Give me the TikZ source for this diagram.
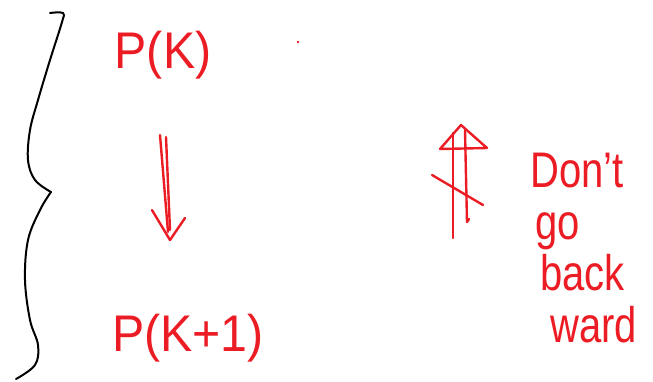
\documentclass[tikz,border=0pt]{standalone}
\usepackage{fontspec}
\setmainfont{Liberation Sans}
\definecolor{ink}{RGB}{236,28,36}
\tikzset{
  pen/.style={ink, line width=2.4pt, line cap=round, line join=round},
  bracepen/.style={black, line width=2pt, line cap=round, line join=round},
  bigtxt/.style={ink, inner sep=0pt, font=\fontsize{46}{46}\selectfont},
  wordtxt/.style={ink, inner sep=0pt, anchor=base west, font=\fontsize{40}{40}\selectfont}
}
\newcommand{\tallw}[1]{\scalebox{1}[1.25]{#1}}
\newcommand{\tallp}[1]{\scalebox{1.05}[1.12]{#1}}
\begin{document}
\begin{tikzpicture}[x=1pt,y=-1pt]
\useasboundingbox (0,0) rectangle (653,381);
% brace
\draw[bracepen] plot[smooth, tension=0.6] coordinates {(50,13) (63,13) (62,22) (50,60) (38,100) (30,130) (28,160) (35,180) (51,192)};
\draw[bracepen] plot[smooth, tension=0.6] coordinates {(51,192) (40,210) (28,240) (25,280) (30,320) (38,345) (35,365) (16,379)};
% texts
\node[bigtxt] (pk) at (163,55) {\tallp{P(K)}};
\node[bigtxt] (pk1) at (188,338) {\tallp{P(K+1)}};
\node[wordtxt] (w1) at (530,187) {\tallw{Don't}};
\node[wordtxt] (w2) at (535,239) {\tallw{go}};
\node[wordtxt] (w3) at (540,290) {\tallw{back}};
\node[wordtxt] (w4) at (550,342) {\tallw{ward}};
% dot
\fill[ink] (298,42) circle (1.3pt);
% down double arrow
\draw[pen] (160,135) -- (168,232);
\draw[pen] (166,137) -- (170,230);
\draw[pen] (152,210) -- (170,240) -- (185,218);
% crossed up arrow
\draw[pen] (440,149) -- (461,125) -- (487,148) -- cycle;
\draw[pen] (453,133) -- (453,238);
\draw[pen] (465,130) -- (467,222) -- (469,219);
\draw[pen] (432,175) -- (483,205);
\end{tikzpicture}
\end{document}
